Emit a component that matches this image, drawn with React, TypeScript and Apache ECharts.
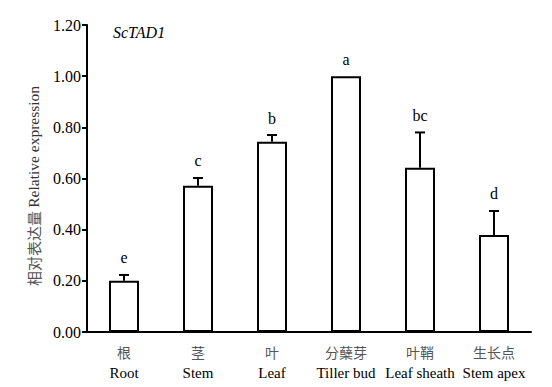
import React, { useEffect, useRef } from "react";
import * as echarts from "echarts";

const categoriesCn = ["根", "茎", "叶", "分蘖芽", "叶鞘", "生长点"];
const categoriesEn = ["Root", "Stem", "Leaf", "Tiller bud", "Leaf sheath", "Stem apex"];
const values = [0.2, 0.572, 0.744, 1.0, 0.642, 0.379];
const errors = [0.023, 0.03, 0.026, 0, 0.138, 0.094];
const letters = ["e", "c", "b", "a", "bc", "d"];
const yTicks = [0, 0.2, 0.4, 0.6, 0.8, 1.0, 1.2];

const SERIF = "Liberation Serif";
const CJK = "Noto Sans CJK SC";

export default function App() {
  const ref = useRef<HTMLDivElement>(null);
  useEffect(() => {
    document.body.style.margin = "0";
    const chart = echarts.init(ref.current!, null, { renderer: "svg" });
    const errData = values.map((v, i) => [i, v, errors[i]]);
    chart.setOption({
      animation: false,
      backgroundColor: "#fff",
      grid: { left: 87, right: 21, top: 25, bottom: 55, containLabel: false },
      graphic: [
        {
          type: "text",
          left: 113,
          top: 24,
          style: {
            text: "ScTAD1",
            fontFamily: SERIF,
            fontStyle: "italic",
            fontSize: 16,
            fill: "#000",
          },
        },
        {
          type: "text",
          x: 33,
          y: 186,
          rotation: Math.PI / 2,
          style: {
            text: "{cn|相对表达量} {en|Relative expression}",
            align: "center",
            verticalAlign: "middle",
            rich: {
              cn: { fontFamily: CJK, fontSize: 15, fill: "#555" },
              en: { fontFamily: SERIF, fontSize: 15.5, fill: "#333" },
            },
          },
        },
      ],
      xAxis: {
        type: "category",
        data: categoriesEn.map((e, i) => categoriesCn[i] + "|" + e),
        boundaryGap: true,
        axisLine: { lineStyle: { color: "#000", width: 2 } },
        axisTick: { inside: true, length: 5, lineStyle: { color: "#000", width: 2 } },
        axisLabel: {
          interval: 0,
          margin: 9,
          formatter: (v: string) => {
            const [cn, en] = v.split("|");
            return "{cn|" + cn + "}\n{en|" + en + "}";
          },
          rich: {
            cn: { fontFamily: CJK, fontSize: 14, color: "#555", lineHeight: 21 },
            en: { fontFamily: SERIF, fontSize: 15, color: "#000", lineHeight: 21 },
          },
        },
      },
      yAxis: {
        type: "value",
        min: 0,
        max: 1.2,
        interval: 0.2,
        axisLine: { show: true, lineStyle: { color: "#000", width: 2 } },
        axisTick: { show: true, inside: false, length: 5, lineStyle: { color: "#000", width: 2 } },
        splitLine: { show: false },
        axisLabel: {
          margin: 6,
          fontFamily: SERIF,
          fontSize: 16,
          color: "#000",
          formatter: (v: number) => (yTicks.some((t) => Math.abs(t - v) < 1e-9) ? v.toFixed(2) : ""),
        },
      },
      series: [
        {
          type: "bar",
          data: values,
          barWidth: 30,
          itemStyle: { color: "#fff", borderColor: "#000", borderWidth: 2 },
        },
        {
          type: "custom",
          data: errData,
          z: 10,
          renderItem: (params: any, api: any) => {
            const i = api.value(0);
            const v = api.value(1);
            const e = api.value(2);
            const letter = letters[params.dataIndex];
            const base = api.coord([i, v]);
            const top = api.coord([i, v + e]);
            const x = base[0];
            const children: any[] = [];
            if (e > 0) {
              children.push({
                type: "line",
                shape: { x1: x, y1: base[1], x2: x, y2: top[1] },
                style: { stroke: "#000", lineWidth: 2 },
              });
              children.push({
                type: "line",
                shape: { x1: x - 5, y1: top[1], x2: x + 5, y2: top[1] },
                style: { stroke: "#000", lineWidth: 2 },
              });
            }
            children.push({
              type: "text",
              x: x,
              y: top[1] - 9,
              style: {
                text: letter,
                fontFamily: SERIF,
                fontSize: 16,
                fill: "#000",
                align: "center",
                verticalAlign: "bottom",
              },
            });
            return { type: "group", children };
          },
        },
      ],
    });
    return () => chart.dispose();
  }, []);
  return <div ref={ref} style={{ width: 552, height: 387 }} />;
}
